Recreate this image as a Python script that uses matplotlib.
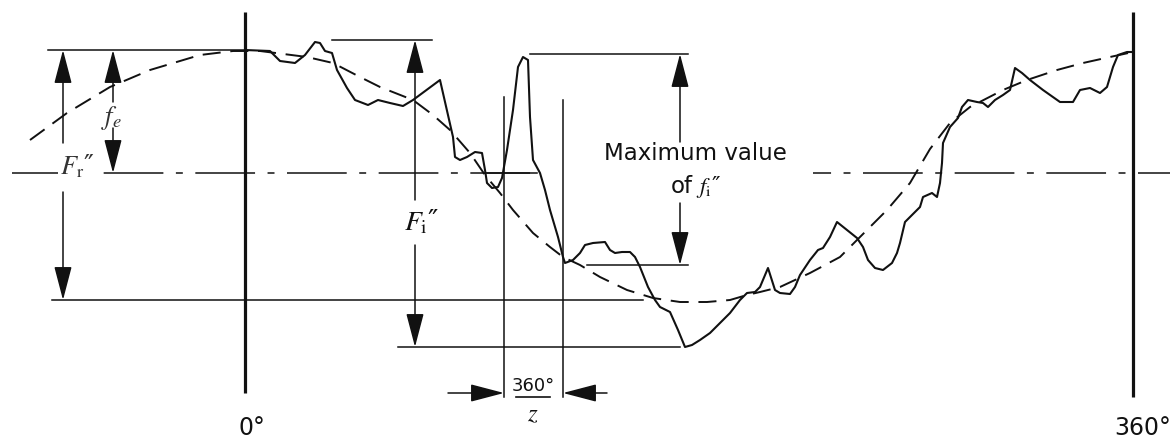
import matplotlib
matplotlib.use("Agg")
import matplotlib.pyplot as plt
from matplotlib.patches import FancyArrowPatch

plt.rcParams['lines.scale_dashes'] = False
plt.rcParams['mathtext.fontset'] = 'stix'
plt.rcParams['font.family'] = ['DejaVu Sans']

# ***** DATA (in image units: x right, y down) *****
# measured error curve
curve_x = [245, 270, 280, 295, 305, 315, 320, 325, 332, 337, 347, 355, 368, 378, 390, 403, 413,
           440, 453, 455, 460, 467, 475, 482, 485, 487, 492, 498, 502, 507, 513, 518, 523, 528,
           530, 533, 540, 545, 550, 558, 563, 565, 573, 580, 585, 593, 605, 610, 615, 622, 630,
           635, 640, 648, 655, 660, 670, 678, 685, 692, 700, 710, 720, 730, 740, 747, 755, 760,
           768, 775, 780, 790, 795, 800, 810, 818, 823, 830, 837, 847, 857, 863, 868, 875, 883,
           892, 897, 900, 905, 912, 920, 923, 932, 937, 940, 942, 943, 950, 958, 962, 968, 977,
           983, 988, 995, 1003, 1010, 1015, 1022, 1030, 1043, 1060, 1073, 1080, 1090, 1100,
           1107, 1113, 1118, 1127, 1133]
curve_y = [50, 51, 61, 63, 55, 42, 43, 51, 53, 70, 88, 100, 105, 100, 103, 106, 100,
           80, 137, 157, 160, 157, 152, 153, 170, 183, 188, 187, 178, 150, 110, 67, 57, 60,
           117, 160, 173, 190, 210, 237, 257, 263, 260, 253, 245, 243, 242, 250, 253, 252, 252,
           257, 267, 287, 300, 307, 312, 330, 347, 345, 340, 333, 323, 313, 300, 293, 292, 287,
           268, 290, 293, 294, 287, 275, 260, 250, 248, 237, 222, 230, 238, 247, 260, 268, 270,
           263, 253, 243, 222, 215, 207, 197, 193, 197, 183, 163, 143, 127, 118, 107, 100, 102,
           103, 107, 100, 95, 90, 68, 73, 80, 90, 102, 102, 90, 88, 93,
           87, 67, 55, 52, 52]

# eccentric (first-harmonic) curve, dashed
sine_x = [30, 67, 110, 150, 200, 233, 260, 307, 333, 360, 380, 413, 433, 450, 470, 485, 500,
          513, 533, 550, 563, 580, 600, 627, 653, 680, 707, 730, 747, 760, 780, 810, 840, 860,
          887, 910, 930, 950, 970, 1003, 1027, 1057, 1083, 1110, 1133]
sine_y = [140, 113, 87, 70, 55, 51, 51, 57, 63, 77, 87, 100, 115, 130, 153, 175, 193,
          210, 233, 247, 257, 265, 277, 290, 298, 302, 302, 300, 295, 292, 287, 273, 257, 237,
          210, 183, 149, 123, 107, 90, 80, 70, 63, 57, 52]

# reference lines
axis_x = [245, 1133]
axis_top = [12, 12]
axis_bottom = [393, 397]
center_y = 173
pitch_x = [504, 563]
pitch_top = [97, 100]

# horizontal limit lines: (y, x_start, x_end)
h_lines = [(50, 48, 245), (300, 52, 643), (40, 332, 432), (347, 398, 680),
           (54, 530, 688), (265, 587, 688), (173, 487, 537)]

# dimension arrows: (x, y_top, y_bottom, shaft end above label, shaft start below label)
dim_Fr = (63, 50, 300, 143, 192)
dim_fe = (113, 50, 173, 102, 128)
dim_Fi = (415, 40, 347, 200, 245)
dim_fi = (680, 54, 265, 142, 203)

# ***** DRAWING *****
fig = plt.figure(figsize=(11.7, 4.41), dpi=100)
ax = fig.add_axes([0, 0, 1, 1])
ax.set_xlim(0, 1170)
ax.set_ylim(441, 0)
ax.axis('off')

ink = '#111111'

# main axes at 0 and 360 deg
for x, t, b in zip(axis_x, axis_top, axis_bottom):
    ax.plot([x, x], [t, b], color=ink, lw=2.3, solid_capstyle='butt')

# centre line (dash-dot)
ax.plot([12, 537], [center_y, center_y], color=ink, lw=1.1, linestyle=(0, (43, 9, 5, 9)))
ax.plot([813, 1170], [center_y, center_y], color=ink, lw=1.1, linestyle=(30, (43, 9, 5, 9)))

for y, x0, x1 in h_lines:
    ax.plot([x0, x1], [y, y], color=ink, lw=1.1)

for x, t in zip(pitch_x, pitch_top):
    ax.plot([x, x], [t, 397], color=ink, lw=1.1)

# dashed eccentric curve
ax.plot(sine_x, sine_y, color=ink, lw=1.4, linestyle=(0, (13, 7)))

# measured curve
ax.plot(curve_x, curve_y, color=ink, lw=1.5, solid_joinstyle='round')


def arrow(x0, y0, x1, y1):
    a = FancyArrowPatch((x0, y0), (x1, y1), arrowstyle='-|>,head_length=21,head_width=5.5',
                        mutation_scale=1, shrinkA=0, shrinkB=0, color=ink, lw=1.1)
    ax.add_patch(a)


for x, top, bot, gap_t, gap_b in (dim_Fr, dim_fe, dim_Fi, dim_fi):
    arrow(x, gap_t, x, top)
    arrow(x, gap_b, x, bot)

# pitch arrows
arrow(448, 393, 504, 393)
arrow(607, 393, 563, 393)

# ***** TEXT *****
ax.text(77, 167, r"$F_{\mathrm{r}}$" + "\u2033", fontsize=19, ha='center', va='center',
        color='#333333', bbox=dict(fc='white', ec='none', pad=1))
ax.text(111, 118, r"$f_e$", fontsize=19, ha='center', va='center', color='#333333')
ax.text(422, 222, r"$F_{\mathrm{i}}$" + "\u2033", fontsize=20, ha='center', va='center',
        color=ink)
ax.text(695, 154, "Maximum value", fontsize=16.5, ha='center', va='center', color=ink)
ax.text(696, 187, r"of $f_{\mathrm{i}}$" + "\u2033", fontsize=16.5, ha='center', va='center',
        color=ink)
# 360°/z fraction
ax.text(533, 386, "360°", fontsize=13, ha='center', va='center', color=ink)
ax.plot([516, 550], [397, 397], color=ink, lw=1.2)
ax.text(533, 414, r"$z$", fontsize=18, ha='center', va='center', color=ink)
ax.text(252, 428, "0°", fontsize=17, ha='center', va='center', color=ink)
ax.text(1143, 428, "360°", fontsize=17, ha='center', va='center', color=ink)

fig.savefig('out.png', dpi=100)
